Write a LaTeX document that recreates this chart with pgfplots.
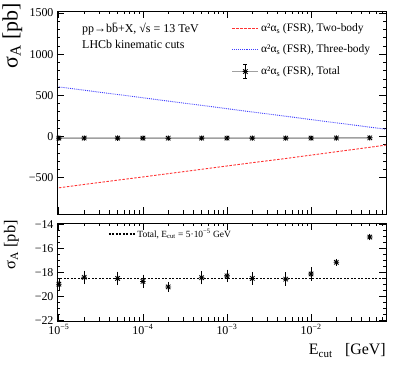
\documentclass[border=0pt]{standalone}
\usepackage{fontspec}
\setmainfont{Liberation Serif}
\usepackage{pgfplots}
\pgfplotsset{compat=1.18}
\usepackage{pgfplotstable}

% ROOT-like star marker (+ and x)
\pgfdeclareplotmark{rootstar}{%
  \pgfpathmoveto{\pgfqpoint{-\pgfplotmarksize}{0pt}}\pgfpathlineto{\pgfqpoint{\pgfplotmarksize}{0pt}}%
  \pgfpathmoveto{\pgfqpoint{0pt}{-\pgfplotmarksize}}\pgfpathlineto{\pgfqpoint{0pt}{\pgfplotmarksize}}%
  \pgfpathmoveto{\pgfqpoint{-.8\pgfplotmarksize}{-.8\pgfplotmarksize}}\pgfpathlineto{\pgfqpoint{.8\pgfplotmarksize}{.8\pgfplotmarksize}}%
  \pgfpathmoveto{\pgfqpoint{-.8\pgfplotmarksize}{.8\pgfplotmarksize}}\pgfpathlineto{\pgfqpoint{.8\pgfplotmarksize}{-.8\pgfplotmarksize}}%
  \pgfusepathqstroke}

\definecolor{twobody}{RGB}{255,50,50}
\definecolor{threebody}{RGB}{60,60,255}
\definecolor{totline}{RGB}{160,160,160}

\pgfplotsset{
  lineleg/.style={legend image code/.code={\draw[##1] (0bp,0bp) -- (26bp,0bp);}},
  totleg/.style={legend image code/.code={
    \draw[totline, line width=1.5bp] (0bp,0bp) -- (26bp,0bp);
    \draw[black, line width=0.6bp] (13bp,-7bp) -- (13bp,7bp)
      (11bp,7bp) -- (15bp,7bp) (11bp,-7bp) -- (15bp,-7bp);
    \draw[black, line width=0.8bp] plot[mark=rootstar, mark size=2.8bp] coordinates {(13bp,0bp)};
  }},
}

% total cross section and its error
\pgfplotstableread{
E      tot     err
1e-5   -18.95  0.35
2e-5   -18.38  0.40
5e-5   -18.47  0.40
1e-4   -18.72  0.40
2e-4   -19.18  0.25
5e-4   -18.41  0.40
1e-3   -18.26  0.35
2e-3   -18.47  0.35
5e-3   -18.53  0.40
1e-2   -18.10  0.40
2e-2   -17.13  0.12
5e-2   -15.02  0.12
}\total

% two-body and three-body pieces
\pgfplotstableread{
E      two    three
1e-5   -622   603
2e-5   -581   563
5e-5   -529   511
1e-4   -490   471
2e-4   -450   431
5e-4   -397   379
1e-3   -357   339
2e-3   -317   299
5e-3   -266   247
1e-2   -225   207
2e-2   -184   167
5e-2   -130   115
1e-1   -88    75
}\parts

\begin{document}
\begin{tikzpicture}
\useasboundingbox (0,0) rectangle (407bp,365bp);

% ---- upper panel ----
\begin{axis}[
  scale only axis, width=329bp, height=203bp,
  at={(57bp,151bp)}, anchor=south west,
  xmode=log, xmin=9.5e-6, xmax=0.078,
  xtick={1e-5,1e-4,1e-3,1e-2},
  minor xtick={2e-5,3e-5,4e-5,5e-5,6e-5,7e-5,8e-5,9e-5,
               2e-4,3e-4,4e-4,5e-4,6e-4,7e-4,8e-4,9e-4,
               2e-3,3e-3,4e-3,5e-3,6e-3,7e-3,8e-3,9e-3,
               2e-2,3e-2,4e-2,5e-2,6e-2,7e-2},
  xticklabels={},
  tick align=inside, tick pos=both,
  major tick length=7bp, minor tick length=3.5bp,
  axis line style={line width=0.9bp},
  every tick/.style={black, line width=0.8bp},
  tick label style={font=\fontsize{12}{14}\selectfont},
  ymin=-940, ymax=1525,
  ytick={-500,0,500,1000,1500},
  yticklabels={−500,0,500,1000,1500},
  minor y tick num=4,
  ylabel={σ\textsubscript{A} [pb]},
  ylabel style={at={(rel axis cs:-0.105,1.04)}, anchor=south east,
    font=\fontsize{22}{24}\selectfont, inner sep=0pt},
  legend cell align=left,
  legend style={at={(rel axis cs:0.53,0.95)}, anchor=north west,
    draw=none, fill=none, font=\fontsize{11.5}{13}\selectfont,
    row sep=8bp, inner sep=0pt, nodes={inner sep=2bp}},
]
\addplot[twobody, line width=0.9bp, dash pattern=on 2.5bp off 1.5bp, lineleg]
  table[x=E, y=two] {\parts};
\addlegendentry{α²α\textsubscript{s} (FSR), Two-body}
\addplot[threebody, line width=0.9bp, densely dotted, lineleg]
  table[x=E, y=three] {\parts};
\addlegendentry{α²α\textsubscript{s} (FSR), Three-body}
\addplot[totline, line width=1.5bp, totleg,
  mark=rootstar, mark size=2.8bp,
  mark options={black, solid, line width=0.8bp},
  error bars/y dir=both, error bars/y explicit,
  error bars/error bar style={black, solid, line width=0.6bp},
  error bars/error mark options={black, solid, mark size=2bp, line width=0.6bp}]
  table[x=E, y=tot, y error=err] {\total};
\addlegendentry{α²α\textsubscript{s} (FSR), Total}
\node[anchor=base west, font=\fontsize{12}{14}\selectfont, inner sep=0pt]
  at (rel axis cs:0.076,0.892) {pp→b\={b}+X, √s = 13 TeV};
\node[anchor=base west, font=\fontsize{12}{14}\selectfont, inner sep=0pt]
  at (rel axis cs:0.076,0.813) {LHCb kinematic cuts};
\end{axis}

% ---- lower panel ----
\begin{axis}[
  scale only axis, width=329bp, height=98bp,
  at={(57bp,44bp)}, anchor=south west,
  xmode=log, xmin=9.5e-6, xmax=0.078,
  xtick={1e-5,1e-4,1e-3,1e-2},
  minor xtick={2e-5,3e-5,4e-5,5e-5,6e-5,7e-5,8e-5,9e-5,
               2e-4,3e-4,4e-4,5e-4,6e-4,7e-4,8e-4,9e-4,
               2e-3,3e-3,4e-3,5e-3,6e-3,7e-3,8e-3,9e-3,
               2e-2,3e-2,4e-2,5e-2,6e-2,7e-2},
  xticklabels={10\textsuperscript{−5},10\textsuperscript{−4},10\textsuperscript{−3},10\textsuperscript{−2}},
  tick align=inside, tick pos=both,
  major tick length=7bp, minor tick length=3.5bp,
  axis line style={line width=0.9bp},
  every tick/.style={black, line width=0.8bp},
  tick label style={font=\fontsize{12}{14}\selectfont},
  ymin=-22.02, ymax=-13.85,
  ytick={-22,-20,-18,-16,-14},
  yticklabels={−22,−20,−18,−16,−14},
  minor y tick num=3,
  ylabel={σ\textsubscript{A} [pb]},
  ylabel style={at={(rel axis cs:-0.115,1.03)}, anchor=south east,
    font=\fontsize{16.5}{18}\selectfont, inner sep=0pt},
  xlabel={{\fontsize{16}{18}\selectfont E}{\fontsize{11}{12}\selectfont\raisebox{-3.5bp}{cut}}\hspace{13bp}{\fontsize{16}{18}\selectfont [GeV]}},
  xlabel style={at={(rel axis cs:1,0)}, anchor=base east, yshift=-33bp,
    inner sep=0pt},
  legend cell align=left,
  legend style={at={(rel axis cs:0.155,0.96)}, anchor=north west,
    draw=none, fill=none, font=\fontsize{9.5}{11}\selectfont,
    inner sep=0pt, nodes={inner sep=2bp}},
]
\addplot[black, line width=1.2bp, dash pattern=on 2bp off 1.5bp, lineleg]
  coordinates {(9.5e-6,-18.47) (0.078,-18.47)};
\addlegendentry{Total, E\textsubscript{cut} = 5·10\textsuperscript{−5} GeV}
\addplot[black, only marks,
  mark=rootstar, mark size=2.8bp,
  mark options={black, solid, line width=0.8bp},
  error bars/y dir=both, error bars/y explicit,
  error bars/error bar style={black, solid, line width=0.6bp},
  error bars/error mark options={black, solid, mark size=2bp, line width=0.6bp}]
  table[x=E, y=tot, y error=err] {\total};
\end{axis}
\end{tikzpicture}
\end{document}
